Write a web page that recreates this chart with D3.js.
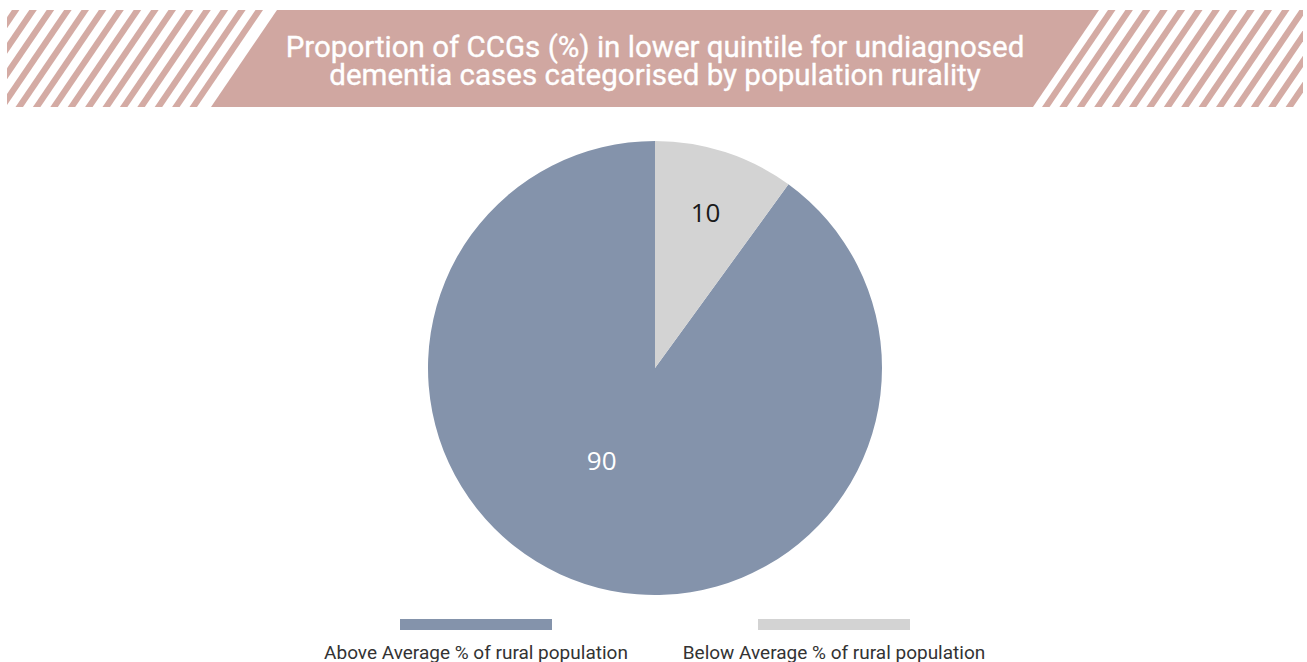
<!DOCTYPE html>
<html>
<head>
<meta charset="utf-8">
<script src="https://cdn.jsdelivr.net/npm/d3@7"></script>
<style>
  html, body { margin: 0; padding: 0; background: #fff; }
  svg { display: block; }
</style>
</head>
<body>
<svg id="chart" width="1307" height="662"></svg>
<script>
// Data
const categories = ["Above Average % of rural population", "Below Average % of rural population"];
const values = [90, 10];
const colors = ["#8493ab", "#d3d3d3"];
const labelColors = ["#ffffff", "#1a1a1a"];
const titleLines = ["Proportion of CCGs (%) in lower quintile for undiagnosed", "dementia cases categorised by population rurality"];

const W = 1307, H = 662;
const svg = d3.select("#chart");

// ---- Title banner ----
const bTop = 10, bBot = 107, bLeft = 7, bRight = 1303;
const slant = 66;                 // horizontal run of slanted edges over the banner height
const bandL = 277, bandR = 1099;  // top corners of the solid band
const stripeColor = "#d4aba4";
const bandColor = "#d0a7a1";
const pitch = 17.4, stripeW = 7.5, gap = 14;

const defs = svg.append("defs");
defs.append("clipPath").attr("id", "bannerClip")
  .append("rect").attr("x", bLeft).attr("y", bTop)
  .attr("width", bRight - bLeft).attr("height", bBot - bTop);

const stripes = svg.append("g").attr("clip-path", "url(#bannerClip)");
function stripe(x0) {
  // parallelogram whose left edge starts at x0 on the top line
  return `M${x0},${bTop}L${x0 + stripeW},${bTop}L${x0 + stripeW - slant},${bBot}L${x0 - slant},${bBot}Z`;
}
// left hatching: last stripe ends `gap` before the band edge
const leftStarts = d3.range(bandL - gap - stripeW, bLeft - 10, -pitch);
const rightStarts = d3.range(bandR + 9, bRight + slant + 10, pitch);
stripes.selectAll("path.l").data(leftStarts).join("path")
  .attr("class", "l").attr("d", stripe).attr("fill", stripeColor);
stripes.selectAll("path.r").data(rightStarts).join("path")
  .attr("class", "r").attr("d", stripe).attr("fill", stripeColor);

svg.append("path")
  .attr("d", `M${bandL},${bTop}L${bandR},${bTop}L${bandR - slant},${bBot}L${bandL - slant},${bBot}Z`)
  .attr("fill", bandColor);

const title = svg.append("text")
  .attr("text-anchor", "middle")
  .attr("font-family", "Roboto, sans-serif")
  .attr("font-weight", 400)
  .attr("font-size", 29.5)
  .attr("fill", "#ffffff")
  .attr("stroke", "#ffffff")
  .attr("stroke-width", 0.35);
title.selectAll("tspan").data(titleLines).join("tspan")
  .attr("x", 655)
  .attr("y", (d, i) => 56.5 + i * 28.5)
  .text(d => d);

// ---- Pie ----
const cx = 655, cy = 368, R = 227;
const total = d3.sum(values);
const pie = d3.pie().sort(null).value(d => d)
  // small slice begins at 12 o'clock, large slice fills the rest
  .startAngle(-2 * Math.PI * values[0] / total)
  .endAngle(2 * Math.PI - 2 * Math.PI * values[0] / total);
const arcs = pie(values);
const arc = d3.arc().innerRadius(0).outerRadius(R);

const g = svg.append("g").attr("transform", `translate(${cx},${cy})`);
g.selectAll("path").data(arcs).join("path")
  .attr("d", arc)
  .attr("fill", (d, i) => colors[i]);

// label placement: radius fraction and angular nudge (degrees) per slice
const labelFrac = [0.47, 0.72];
const labelNudge = [12, 0];
g.selectAll("text").data(arcs).join("text")
  .attr("transform", (d, i) => {
    const a = (d.startAngle + d.endAngle) / 2 + labelNudge[i] * Math.PI / 180;
    const r = R * labelFrac[i];
    return `translate(${Math.sin(a) * r},${-Math.cos(a) * r})`;
  })
  .attr("text-anchor", "middle")
  .attr("dy", "0.35em")
  .attr("font-family", "'Open Sans', sans-serif")
  .attr("font-size", 26)
  .attr("fill", (d, i) => labelColors[i])
  .text(d => d.data);

// ---- Legend ----
const legendX = d3.scalePoint().domain(categories).range([476, 834]);
const lg = svg.append("g");
lg.selectAll("rect").data(categories).join("rect")
  .attr("x", d => legendX(d) - 76)
  .attr("y", 619)
  .attr("width", 152)
  .attr("height", 11)
  .attr("fill", (d, i) => colors[i]);
lg.selectAll("text").data(categories).join("text")
  .attr("x", d => legendX(d))
  .attr("y", 659)
  .attr("text-anchor", "middle")
  .attr("font-family", "Roboto, sans-serif")
  .attr("font-size", 19)
  .attr("fill", "#333333")
  .text(d => d);
</script>
</body>
</html>
